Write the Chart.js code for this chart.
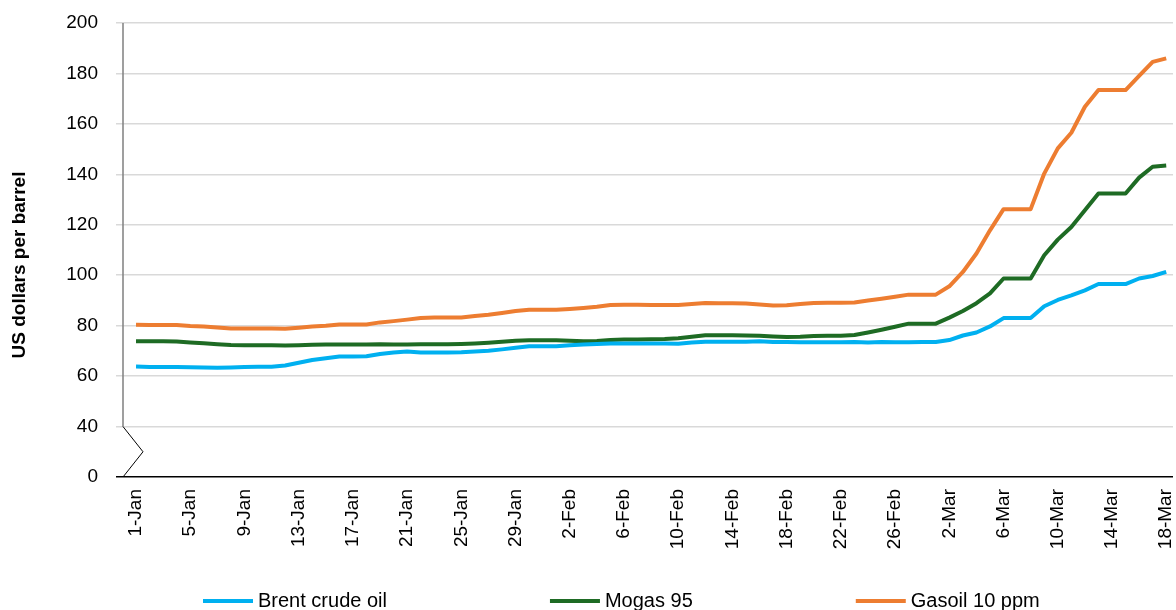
<!DOCTYPE html>
<html>
<head>
<meta charset="utf-8">
<script src="https://cdn.jsdelivr.net/npm/chart.js@4.4.1/dist/chart.umd.min.js"></script>
<style>
    html, body { margin: 0; padding: 0; background: #fff; }
    #wrap { width: 1176px; height: 610px; position: relative; }
</style>
</head>
<body>
<div id="wrap"><canvas id="chartPrix"></canvas></div>
<script>
// jours du 1-Jan au 18-Mar
const dateLabels = [
    '1-Jan','2-Jan','3-Jan','4-Jan','5-Jan','6-Jan','7-Jan','8-Jan','9-Jan','10-Jan',
    '11-Jan','12-Jan','13-Jan','14-Jan','15-Jan','16-Jan','17-Jan','18-Jan','19-Jan','20-Jan',
    '21-Jan','22-Jan','23-Jan','24-Jan','25-Jan','26-Jan','27-Jan','28-Jan','29-Jan','30-Jan','31-Jan',
    '1-Feb','2-Feb','3-Feb','4-Feb','5-Feb','6-Feb','7-Feb','8-Feb','9-Feb','10-Feb',
    '11-Feb','12-Feb','13-Feb','14-Feb','15-Feb','16-Feb','17-Feb','18-Feb','19-Feb','20-Feb',
    '21-Feb','22-Feb','23-Feb','24-Feb','25-Feb','26-Feb','27-Feb','28-Feb',
    '1-Mar','2-Mar','3-Mar','4-Mar','5-Mar','6-Mar','7-Mar','8-Mar','9-Mar','10-Mar',
    '11-Mar','12-Mar','13-Mar','14-Mar','15-Mar','16-Mar','17-Mar','18-Mar'
];

const brent = [
    63.8, 63.6, 63.6, 63.6, 63.5, 63.4, 63.3, 63.4, 63.6, 63.7,
    63.7, 64.2, 65.3, 66.4, 67.1, 67.8, 67.8, 67.9, 68.8, 69.4,
    69.8, 69.4, 69.4, 69.4, 69.5, 69.8, 70.1, 70.6, 71.2, 71.8,
    71.8, 71.8, 72.2, 72.5, 72.7, 72.9, 72.9, 72.9, 72.9, 72.9,
    72.8, 73.3, 73.6, 73.6, 73.6, 73.6, 73.8, 73.5, 73.5, 73.4,
    73.4, 73.4, 73.4, 73.5, 73.3, 73.5, 73.4, 73.4, 73.5, 73.5,
    74.3, 76.1, 77.3, 79.7, 83.0, 83.0, 83.0, 87.7, 90.2, 92.0,
    94.0, 96.5, 96.5, 96.5, 98.7, 99.7, 101.3
];

const mogas = [
    73.8, 73.8, 73.8, 73.7, 73.3, 73.0, 72.6, 72.3, 72.2, 72.2,
    72.2, 72.1, 72.2, 72.4, 72.5, 72.5, 72.5, 72.5, 72.6, 72.5,
    72.5, 72.6, 72.6, 72.6, 72.7, 72.9, 73.2, 73.6, 74.0, 74.2,
    74.2, 74.2, 74.0, 73.8, 73.9, 74.3, 74.5, 74.5, 74.6, 74.7,
    75.0, 75.6, 76.2, 76.2, 76.2, 76.1, 76.0, 75.7, 75.5, 75.6,
    75.9, 76.0, 76.0, 76.3, 77.3, 78.4, 79.6, 80.8, 80.8, 80.8,
    83.2, 85.8, 88.9, 92.8, 98.7, 98.7, 98.7, 107.9, 114.1, 119.1,
    125.8, 132.4, 132.4, 132.4, 138.7, 143.0, 143.5
];

const gasoil = [
    80.4, 80.3, 80.3, 80.3, 79.9, 79.7, 79.3, 78.9, 78.9, 78.9,
    78.9, 78.8, 79.2, 79.7, 80.0, 80.5, 80.5, 80.5, 81.3, 81.8,
    82.4, 83.0, 83.2, 83.2, 83.2, 83.8, 84.3, 85.0, 85.8, 86.3,
    86.3, 86.3, 86.6, 87.0, 87.5, 88.2, 88.3, 88.3, 88.2, 88.2,
    88.2, 88.6, 89.0, 88.9, 88.9, 88.8, 88.4, 88.0, 88.1, 88.6,
    89.0, 89.1, 89.1, 89.2, 90.0, 90.7, 91.5, 92.3, 92.3, 92.3,
    95.6, 101.3, 108.6, 117.8, 126.2, 126.2, 126.2, 140.3, 150.3, 156.5,
    166.8, 173.4, 173.4, 173.4, 179.0, 184.6, 186.0
];

const seriesNames = ['Brent crude oil', 'Mogas 95', 'Gasoil 10 ppm'];
const seriesColors = ['#00b0f0', '#1e6b24', '#ed7d31'];

// axe coupé : la graduation 20 est affichée comme 0
const yMin = 20;
const yMax = 200;
const yBreakLabel = '0';
const yTitle = 'US dollars per barrel';

const FONT = 'Liberation Sans, Arial, sans-serif';

function toPoints(values) {
    return values.map((v, i) => ({ x: i, y: v }));
}

const axeCasse = {
    id: 'axeCasse',
    afterDraw(chart) {
        const { ctx, chartArea, scales } = chart;
        const y = scales.y;
        const x0 = chartArea.left;
        const y40 = y.getPixelForValue(40);
        const y30 = y.getPixelForValue(30);
        const y20 = y.getPixelForValue(20);
        ctx.save();
        ctx.strokeStyle = '#7f7f7f';
        ctx.lineWidth = 1.5;
        ctx.beginPath();
        ctx.moveTo(x0, chartArea.top);
        ctx.lineTo(x0, y40);
        ctx.stroke();
        ctx.strokeStyle = '#000';
        ctx.lineWidth = 1;
        ctx.beginPath();
        ctx.moveTo(x0, y40);
        ctx.lineTo(x0 + 20, y30);
        ctx.lineTo(x0, y20);
        ctx.stroke();

        // titre de l'axe Y
        ctx.fillStyle = '#000';
        ctx.font = 'bold 19px ' + FONT;
        ctx.textAlign = 'center';
        ctx.textBaseline = 'middle';
        ctx.translate(20, (chartArea.top + chartArea.bottom) / 2 + 15);
        ctx.rotate(-Math.PI / 2);
        ctx.fillText(yTitle, 0, 0);
        ctx.restore();
    }
};

const legendeBas = {
    id: 'legendeBas',
    afterDraw(chart) {
        const { ctx } = chart;
        const lineY = chart.height - 9;
        const textY = chart.height - 3;
        let x = 203;
        ctx.save();
        ctx.font = '20px ' + FONT;
        ctx.textAlign = 'left';
        ctx.textBaseline = 'alphabetic';
        seriesNames.forEach((name, i) => {
            ctx.strokeStyle = seriesColors[i];
            ctx.lineWidth = 4;
            ctx.beginPath();
            ctx.moveTo(x, lineY);
            ctx.lineTo(x + 50, lineY);
            ctx.stroke();
            ctx.fillStyle = '#000';
            ctx.fillText(name, x + 55, textY);
            x += 55 + ctx.measureText(name).width + 163;
        });
        ctx.restore();
    }
};

const ctx = document.getElementById('chartPrix').getContext('2d');
new Chart(ctx, {
    type: 'line',
    data: {
        datasets: [brent, mogas, gasoil].map((values, i) => ({
            label: seriesNames[i],
            data: toPoints(values),
            borderColor: seriesColors[i],
            backgroundColor: seriesColors[i],
            borderWidth: 4,
            pointRadius: 0,
            tension: 0,
            borderJoinStyle: 'round',
            fill: false
        }))
    },
    options: {
        responsive: true,
        maintainAspectRatio: false,
        animation: false,
        devicePixelRatio: 1,
        layout: { padding: { top: 23, right: 3, left: 0, bottom: 0 } },
        scales: {
            x: {
                type: 'linear',
                min: -0.96,
                max: 76.5,
                afterFit: s => { s.height = 133; s.paddingLeft = 0; s.paddingRight = 0; },
                border: { display: false },
                grid: { display: false, drawTicks: false },
                ticks: {
                    stepSize: 4,
                    includeBounds: false,
                    autoSkip: false,
                    maxRotation: 90,
                    minRotation: 90,
                    padding: 12,
                    color: '#000',
                    font: { family: FONT, size: 19 },
                    callback: v => dateLabels[v]
                }
            },
            y: {
                min: yMin,
                max: yMax,
                afterFit: s => { s.width = 123; s.paddingTop = 0; s.paddingBottom = 0; },
                border: { display: false },
                grid: {
                    color: c => c.tick && c.tick.value === yMin ? '#000' : '#d9d9d9',
                    lineWidth: 1.5,
                    tickLength: 7
                },
                ticks: {
                    stepSize: 20,
                    padding: 18,
                    color: '#000',
                    font: { family: FONT, size: 19 },
                    callback: v => v === yMin ? yBreakLabel : v
                }
            }
        },
        plugins: {
            legend: { display: false },
            tooltip: { enabled: false }
        }
    },
    plugins: [axeCasse, legendeBas]
});
</script>
</body>
</html>
